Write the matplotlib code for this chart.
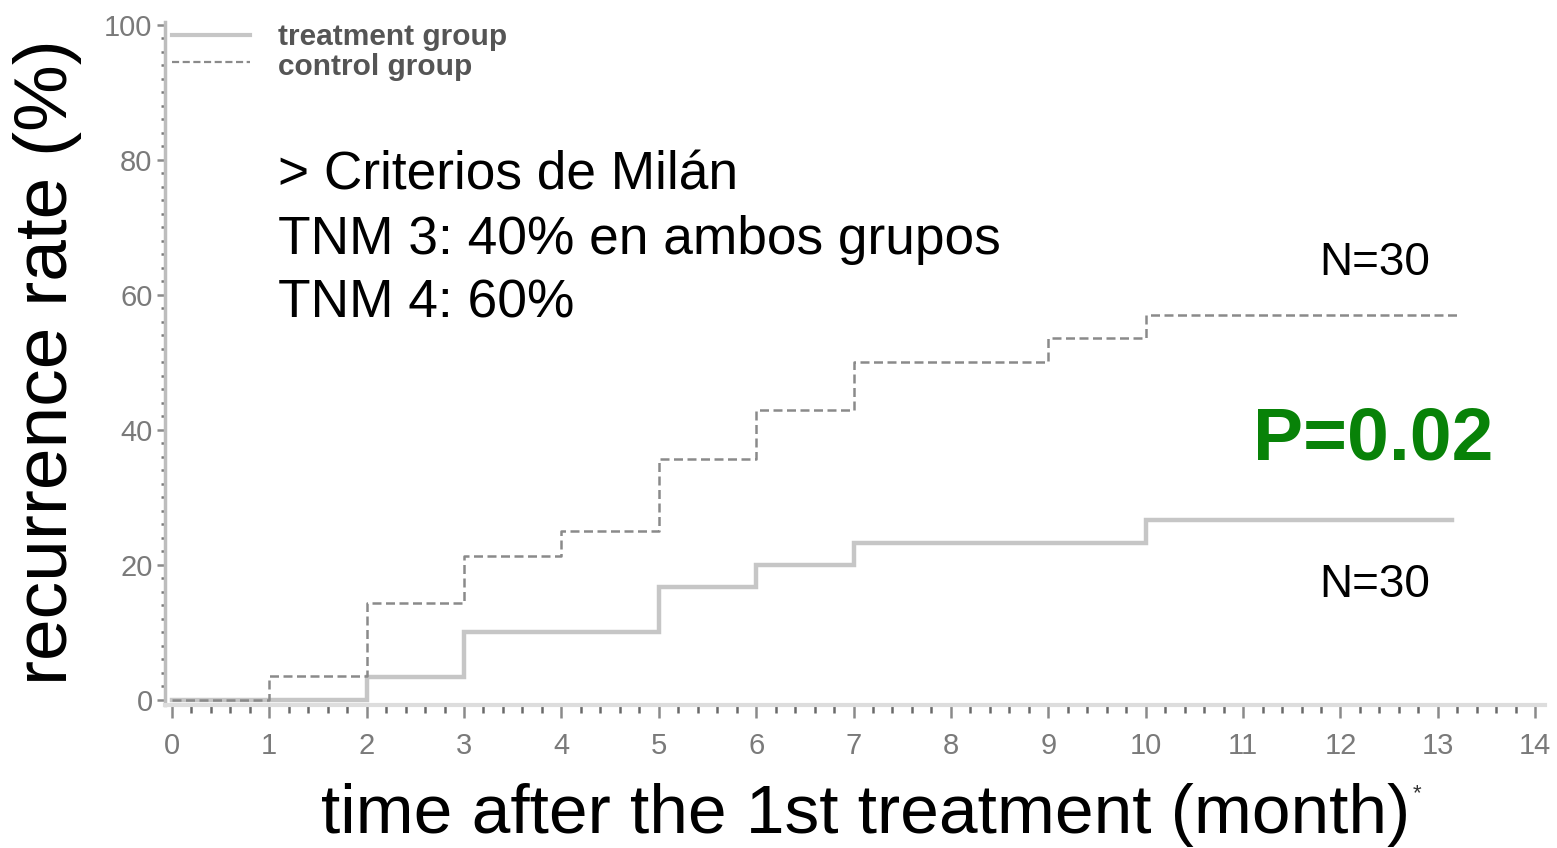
import matplotlib
matplotlib.use("Agg")
import matplotlib.pyplot as plt
from matplotlib.ticker import MultipleLocator
from matplotlib.lines import Line2D

# Data
treat_time = [0, 2, 3, 5, 6, 7, 10, 13.15]
treat_rate = [0, 3.4, 10.0, 16.7, 20.0, 23.3, 26.7, 26.7]
ctrl_time = [0, 1, 2, 3, 4, 5, 6, 7, 9, 10, 13.2]
ctrl_rate = [0, 3.5, 14.3, 21.4, 25.0, 35.7, 42.9, 50.0, 53.6, 57.1, 57.1]
x_ticks = list(range(0, 15))
y_ticks = [0, 20, 40, 60, 80, 100]
legend_labels = ["treatment group", "control group"]
note_lines = ["> Criterios de Milán", "TNM 3: 40% en ambos grupos", "TNM 4: 60%"]
n_label = "N=30"
p_label = "P=0.02"

plt.rcParams['font.family'] = ['Liberation Sans', 'DejaVu Sans']

W, H = 1557, 848
fig = plt.figure(figsize=(W / 100, H / 100), dpi=100)
fig.patch.set_facecolor('white')

x0, x1 = -0.07, 14.1
y0, y1 = -0.7, 100.5
ax = fig.add_axes([165 / W, 1 - 704.7 / H, (1545 - 165) / W, (704.7 - 21.6) / H])
ax.set_xlim(x0, x1)
ax.set_ylim(y0, y1)
ax.set_facecolor('white')

ax.step(treat_time, treat_rate, where='post', color='#c6c6c6', lw=3.2,
        solid_joinstyle='miter')
ax.step(ctrl_time, ctrl_rate, where='post', color='#8a8a8a', lw=1.8,
        dashes=(3.6, 1.8))

for s in ['top', 'right']:
    ax.spines[s].set_visible(False)
ax.spines['left'].set_color('#bdbdbd')
ax.spines['left'].set_linewidth(2.5)
ax.spines['bottom'].set_color('#dddddd')
ax.spines['bottom'].set_linewidth(3)

ax.set_xticks(x_ticks)
ax.set_xticklabels([str(v) for v in x_ticks])
ax.xaxis.set_minor_locator(MultipleLocator(0.2))
ax.tick_params(axis='x', which='major', direction='out', length=9, width=1.8,
               color='#8a8a8a', labelsize=21, labelcolor='#7a7a7a', pad=11)
ax.tick_params(axis='x', which='minor', direction='out', length=6, width=1.8,
               color='#6a6a6a')

ax.set_yticks(y_ticks)
ax.set_yticklabels([str(v) for v in y_ticks])
ax.yaxis.set_minor_locator(MultipleLocator(2))
ax.tick_params(axis='y', which='major', direction='out', length=6, width=1.8,
               color='#8a8a8a', labelsize=21, labelcolor='#7a7a7a', pad=3)
ax.tick_params(axis='y', which='minor', direction='out', length=3, width=1.8,
               color='#7a7a7a')

fig.text(48 / W, 1 - 362 / H, "recurrence rate (%)", rotation=90, fontsize=54,
         ha='center', va='center', color='black')
fig.text(866 / W, 1 - 815 / H, "time after the 1st treatment (month)", fontsize=50,
         ha='center', va='center', color='black')
fig.text(1417 / W, 1 - 794 / H, "*", fontsize=16, ha='center', va='center', color='#333333')

# Legend (drawn manually to match the reference)
leg_items = [
    (35, 37, dict(color='#c6c6c6', lw=3.0)),
    (62, 67, dict(color='#8a8a8a', lw=1.6, dashes=(3.2, 1.6))),
]
for (ypx, typx, style), lab in zip(leg_items, legend_labels):
    fig.add_artist(Line2D([172 / W, 250 / W], [1 - ypx / H, 1 - ypx / H],
                          transform=fig.transFigure, **style))
    fig.text(278 / W, 1 - typx / H, lab, fontsize=21.5, fontweight='bold',
             color='#555555', ha='left', va='center')

for i, line in enumerate(note_lines):
    fig.text(278 / W, 1 - (190 + 64 * i) / H, line, fontsize=38.3, color='black',
             ha='left', va='baseline')

fig.text(1375 / W, 1 - 263 / H, n_label, fontsize=33, color='black', ha='center', va='center')
fig.text(1375 / W, 1 - 585 / H, n_label, fontsize=33, color='black', ha='center', va='center')
fig.text(1373 / W, 1 - 440 / H, p_label, fontsize=54, fontweight='bold', color='#088208',
         ha='center', va='center')

fig.savefig("out.png", dpi=100, facecolor='white')
